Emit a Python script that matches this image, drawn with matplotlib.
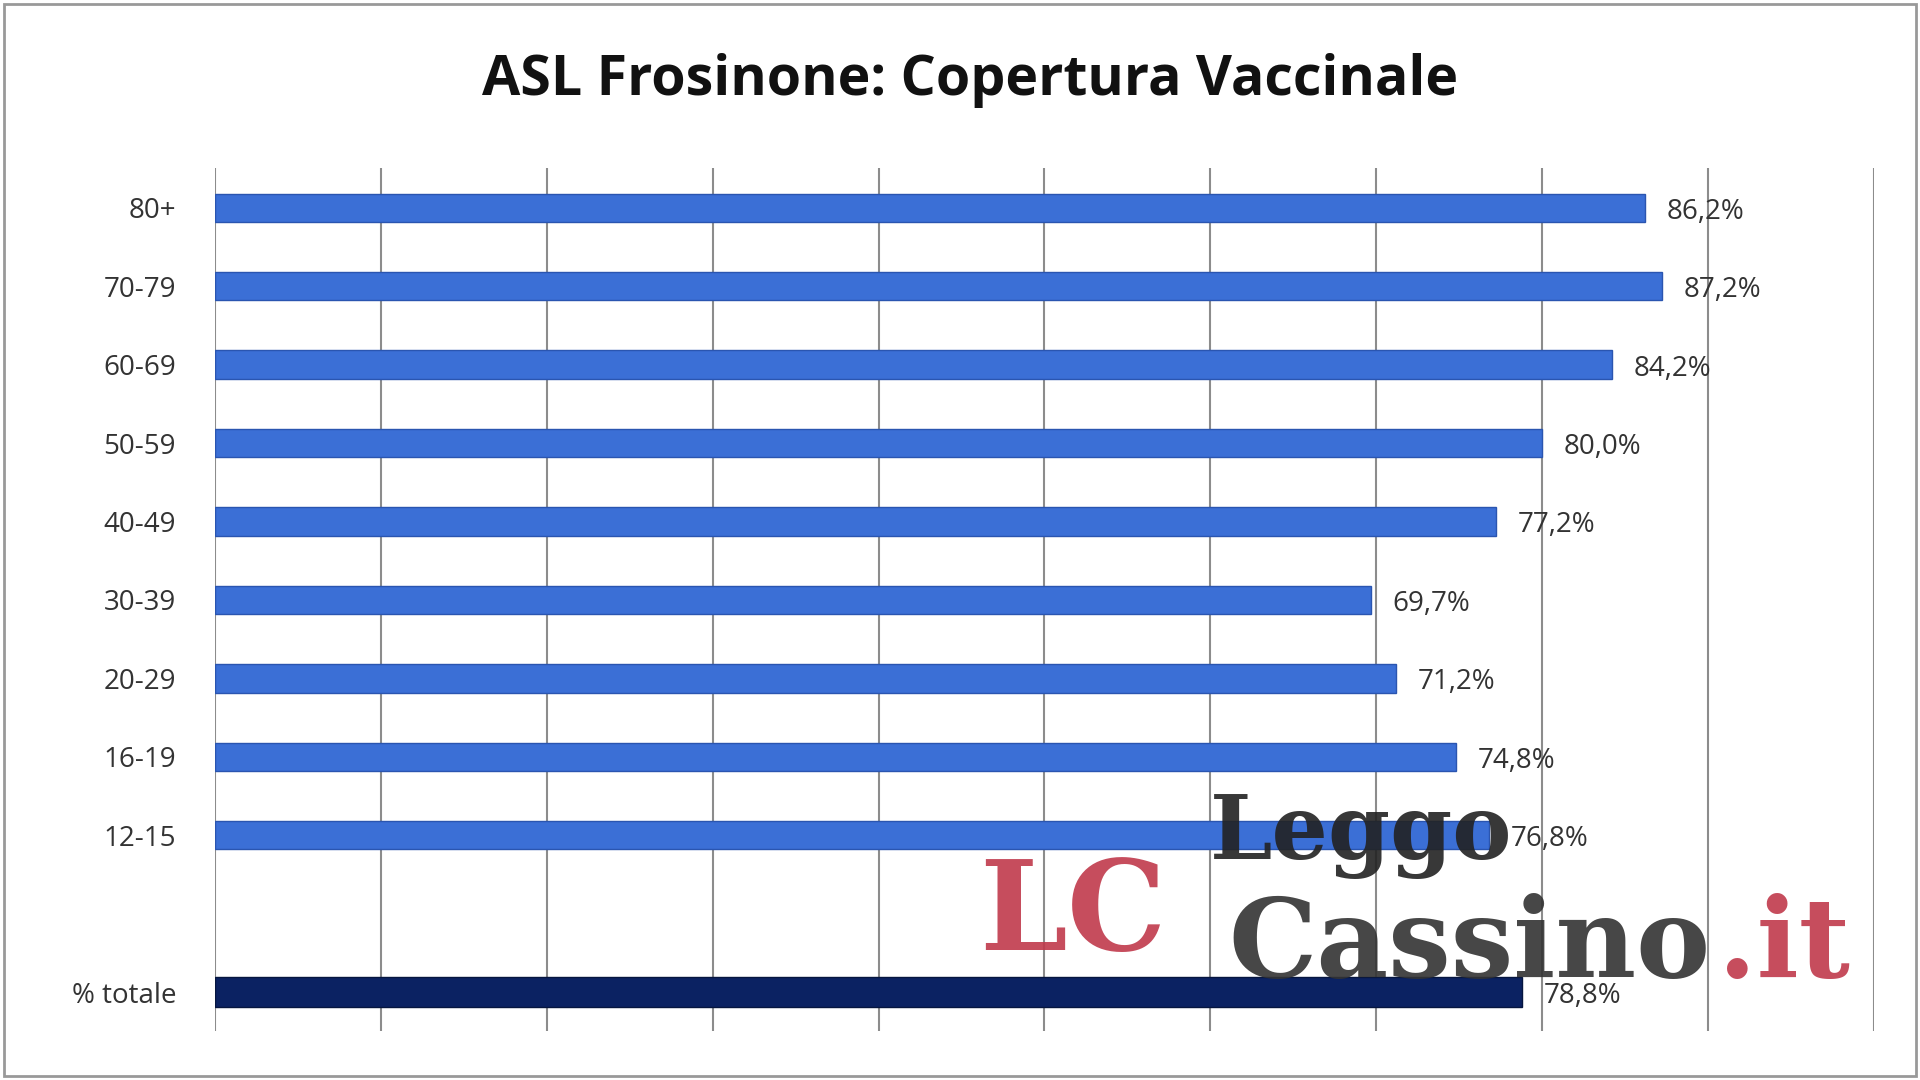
import matplotlib.pyplot as plt
from matplotlib.patches import Rectangle

plt.rcParams['font.family'] = ['Open Sans', 'DejaVu Sans']

categories = ["80+", "70-79", "60-69", "50-59", "40-49", "30-39", "20-29", "16-19", "12-15"]
values = [86.2, 87.2, 84.2, 80.0, 77.2, 69.7, 71.2, 74.8, 76.8]
total_label = "% totale"
total_value = 78.8

fig = plt.figure(figsize=(19.2, 10.8), dpi=100)
fig.patches.append(Rectangle((0.002, 0.004), 0.996, 0.992, transform=fig.transFigure,
                             fill=False, edgecolor="#999999", linewidth=2))
ax = fig.add_axes([0.112, 0.045, 0.864, 0.799])

positions = list(range(len(categories)))
ax.barh(positions, values, height=0.36, color="#3b6fd6", edgecolor="#2a55b0", linewidth=1)
total_pos = len(categories) + 1
ax.barh([total_pos], [total_value], height=0.38, color="#0b2262", edgecolor="#06163f", linewidth=1)

for p, v in zip(positions + [total_pos], values + [total_value]):
    ax.text(v + 1.3, p + 0.05, f"{v:.1f}%".replace(".", ","), va="center", ha="left",
            fontsize=20, color="#333333")

ax.set_xlim(0, 100)
ax.set_ylim(total_pos + 0.5, -0.5)
ax.set_xticks(range(0, 101, 10))
ax.xaxis.grid(True, color="#8c8c8c", linewidth=1.5)
ax.set_axisbelow(True)
ax.tick_params(axis="x", length=0, labelbottom=False)
ax.tick_params(axis="y", length=0, pad=28, labelsize=20, labelcolor="#333333")
ax.set_yticks(positions + [total_pos])
ax.set_yticklabels(categories + [total_label])
for s in ax.spines.values():
    s.set_visible(False)

fig.text(0.505, 0.925, "ASL Frosinone: Copertura Vaccinale", ha="center", va="center",
         fontsize=40, fontweight="bold", color="#111111")

# watermark
fig.text(0.63, 0.205, "Leggo", fontsize=64, fontweight="bold", color="#222222",
         family="DejaVu Serif", alpha=0.9)
fig.text(0.64, 0.095, "Cassino", fontsize=80, fontweight="bold", color="#333333",
         family="DejaVu Serif", alpha=0.9)
fig.text(0.895, 0.095, ".it", fontsize=80, fontweight="bold", color="#c0394b",
         family="DejaVu Serif", alpha=0.9)
fig.text(0.51, 0.12, "LC", fontsize=90, fontweight="bold", color="#c0394b",
         family="DejaVu Serif", alpha=0.9)

fig.savefig("out.png", dpi=100, facecolor="white")
